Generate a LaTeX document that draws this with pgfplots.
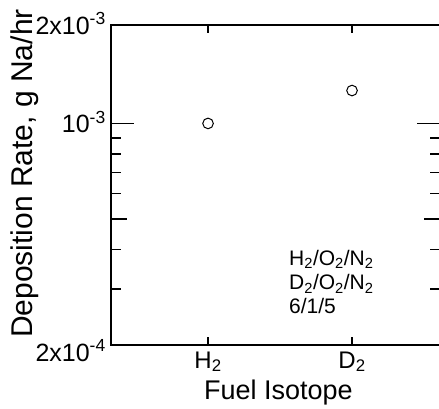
\documentclass[border=0pt]{standalone}
\usepackage{fontspec}
\setmainfont{Liberation Sans}
\usepackage{pgfplots}
\pgfplotsset{compat=1.18}
\begin{document}
\begin{tikzpicture}
\begin{semilogyaxis}[
  scale only axis, width=329pt, height=320pt,
  xmin=0.326, xmax=2.611, ymin=2e-4, ymax=2.044e-3,
  xtick={1,2}, xticklabels={H\textsubscript{2}, D\textsubscript{2}},
  ytick={2e-4,2.044e-3},
  yticklabels={\raisebox{-7pt}{2x10\textsuperscript{-4}}, 2x10\textsuperscript{-3}},
  extra y ticks={1e-3}, extra y tick labels={10\textsuperscript{-3}},
  extra tick style={major tick length=23pt},
  minor ytick={3e-4,4e-4,6e-4,7e-4,8e-4,9e-4},
  major tick length=8pt, minor tick length=10pt,
  tick align=inside,
  axis line style={line width=1.6pt},
  tick style={black, line width=1.4pt},
  /pgf/number format/assume math mode=true,
  yticklabel style={font=\fontsize{25}{25}\selectfont, anchor=base east, inner sep=0pt, xshift=-5pt, yshift=-9pt},
  xticklabel style={font=\fontsize{24}{24}\selectfont, anchor=base, inner sep=0pt, yshift=-23pt},
  xlabel={Fuel Isotope},
  xlabel style={font=\fontsize{27}{27}\selectfont, at={(axis description cs:0.509,-0.169)}, anchor=base, inner sep=0pt},
  ylabel={Deposition Rate, g Na/hr},
  ylabel style={font=\fontsize{30}{30}\selectfont, at={(axis description cs:-0.240,0.536)}, anchor=base, inner sep=0pt},
]
\addplot[only marks, mark=o, mark size=5.3pt, mark options={line width=1pt, black}] coordinates {(1,1e-3) (2,1.27e-3)};
\draw[line width=1.4pt] (axis cs:0.326,5e-4) -- ([xshift=16pt]axis cs:0.326,5e-4);
\draw[line width=1.4pt] (axis cs:2.611,5e-4) -- ([xshift=-16pt]axis cs:2.611,5e-4);
\node[anchor=base west, inner sep=0pt, font=\fontsize{21}{21}\selectfont] at (rel axis cs:0.541,0.25) {H\textsubscript{2}/O\textsubscript{2}/N\textsubscript{2}};
\node[anchor=base west, inner sep=0pt, font=\fontsize{21}{21}\selectfont] at (rel axis cs:0.541,0.172) {D\textsubscript{2}/O\textsubscript{2}/N\textsubscript{2}};
\node[anchor=base west, inner sep=0pt, font=\fontsize{21}{21}\selectfont] at (rel axis cs:0.541,0.1) {6/1/5};
\coordinate (sw) at (rel axis cs:0,0);
\coordinate (nw) at (rel axis cs:0,1);
\end{semilogyaxis}
\pgfresetboundingbox
\path[use as bounding box] ([shift={(-111pt,-63pt)}]sw) rectangle ([shift={(328pt,25pt)}]nw);
\end{tikzpicture}
\end{document}
